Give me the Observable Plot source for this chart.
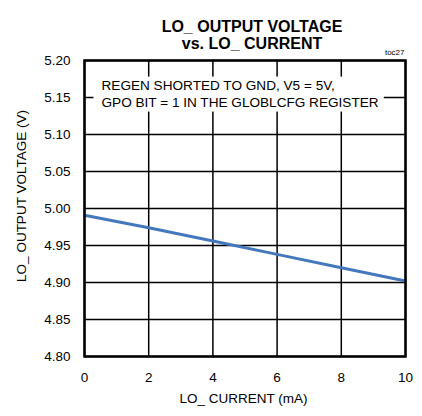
<!DOCTYPE html>
<html>
<head>
<meta charset="utf-8">
<script src="https://cdn.jsdelivr.net/npm/d3@7"></script>
<script src="https://cdn.jsdelivr.net/npm/@observablehq/plot@0.6"></script>
<style>
  html, body { margin: 0; padding: 0; background: white; }
</style>
</head>
<body>
<script>
// ---- data ----
const currentMA = [0, 2, 4, 6, 8, 10];
const outputV = [4.991, 4.974, 4.956, 4.938, 4.920, 4.902];
const xTicks = [0, 2, 4, 6, 8, 10];
const yTicks = [4.80, 4.85, 4.90, 4.95, 5.00, 5.05, 5.10, 5.15, 5.20];
const titleLines = ["LO_ OUTPUT VOLTAGE", "vs. LO_ CURRENT"];
const figId = ["toc27"];
const annotLines = ["REGEN SHORTED TO GND, V5 = 5V,", "GPO BIT = 1 IN THE GLOBLCFG REGISTER"];
const xLabel = ["LO_ CURRENT (mA)"];
const yLabel = ["LO_ OUTPUT VOLTAGE (V)"];

const points = currentMA.map((x, i) => ({x, y: outputV[i]}));
const FONT = "'Liberation Sans', Arial, Helvetica, sans-serif";

const chart = Plot.plot({
  width: 422,
  height: 416,
  marginLeft: 84,
  marginRight: 17,
  marginTop: 60,
  marginBottom: 60,
  style: {fontFamily: FONT, fontSize: "13.5px", color: "black", background: "white", overflow: "visible"},
  x: {domain: [0, 10], ticks: xTicks, tickSize: 0, tickPadding: 16, label: null},
  y: {domain: [4.80, 5.20], ticks: yTicks, tickSize: 0, tickPadding: 14, tickFormat: d3.format(".2f"), label: null},
  marks: [
    Plot.gridX(xTicks, {stroke: "black", strokeOpacity: 1, strokeWidth: 1.5}),
    Plot.gridY(yTicks, {stroke: "black", strokeOpacity: 1, strokeWidth: 1.5}),
    Plot.text([annotLines.join("\n")], {
      frameAnchor: "top-left", dx: 17, dy: 17, textAnchor: "start", lineAnchor: "top",
      fontSize: 13.6, lineHeight: 1.25, fill: "black"
    }),
    Plot.line(points, {x: "x", y: "y", stroke: "#4478bd", strokeWidth: 3}),
    Plot.frame({stroke: "black", strokeWidth: 2.5}),
    Plot.text([titleLines.join("\n")], {
      frameAnchor: "top", dx: 7, dy: -11.7, lineAnchor: "bottom", lineHeight: 1.04,
      fontSize: 16, fontWeight: "bold", fill: "black"
    }),
    Plot.text(figId, {
      frameAnchor: "top-right", dx: -1, dy: -5.3, textAnchor: "end", lineAnchor: "bottom",
      fontSize: 8, fill: "black"
    }),
    Plot.text(xLabel, {
      frameAnchor: "bottom", dx: -1.5, dy: 46, lineAnchor: "bottom", fontSize: 13.5, fill: "black"
    }),
    Plot.text(yLabel, {
      frameAnchor: "left", dx: -59, dy: -12.5, rotate: -90, textAnchor: "middle", lineAnchor: "bottom",
      fontSize: 13.5, fill: "black"
    })
  ]
});

document.body.append(chart);

// white box behind the annotation text, sized from the rendered text
(function () {
  const svgRect = chart.getBoundingClientRect();
  const t = Array.from(chart.querySelectorAll("text")).find(el => el.textContent.startsWith("REGEN"));
  if (!t) return;
  const r = t.getBoundingClientRect();
  const g = t.closest("svg > g") || t.parentNode;
  const rect = document.createElementNS("http://www.w3.org/2000/svg", "rect");
  rect.setAttribute("x", r.left - svgRect.left - 8);
  rect.setAttribute("y", r.top - svgRect.top - 1);
  rect.setAttribute("width", r.width + 13);
  rect.setAttribute("height", r.height + 3);
  rect.setAttribute("fill", "white");
  g.parentNode.insertBefore(rect, g);
})();
</script>
</body>
</html>
